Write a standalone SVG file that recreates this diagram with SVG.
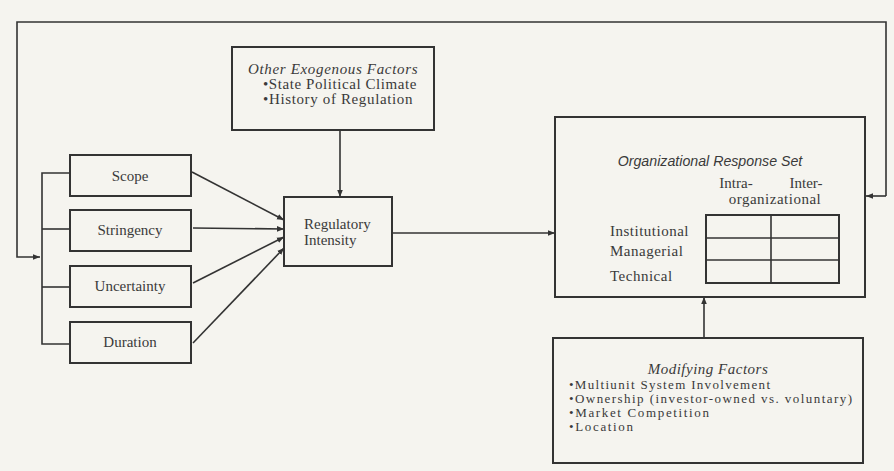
<svg xmlns="http://www.w3.org/2000/svg" width="894" height="471" viewBox="0 0 894 471">
<defs>
<marker id="ah" viewBox="0 0 10 10" refX="10" refY="5" markerWidth="7" markerHeight="7" orient="auto" markerUnits="userSpaceOnUse"><path d="M0,1 L10,5 L0,9 z" fill="#333"/></marker>
</defs>
<style>
.box{fill:none;stroke:#333;stroke-width:2}
.ln{fill:none;stroke:#333;stroke-width:1.6}
.t{font-family:"Liberation Serif",serif;font-size:15px;fill:#3a3a3a}
.sp{letter-spacing:0.5px}
.ti{font-family:"Liberation Serif",serif;font-size:15px;font-style:italic;fill:#3a3a3a}
.si{font-family:"Liberation Sans",sans-serif;font-size:14.2px;font-style:italic;fill:#3a3a3a}
.m{font-family:"Liberation Serif",serif;font-size:13px;fill:#3a3a3a}
</style>
<rect width="894" height="471" fill="#f5f4ef"/>
<g id="connectors">
<polyline class="ln" points="886,196 886,22 17,22 17,257 40,257" marker-end="url(#ah)"/>
<line class="ln" x1="886" y1="196" x2="866" y2="196" marker-end="url(#ah)"/>
<polyline class="ln" points="70,173 42,173 42,344 70,344"/>
<line class="ln" x1="42" y1="229" x2="70" y2="229"/>
<line class="ln" x1="42" y1="287" x2="70" y2="287"/>
<line class="ln" x1="340" y1="130" x2="340" y2="197" marker-end="url(#ah)"/>
<line class="ln" x1="192" y1="172" x2="284" y2="220" marker-end="url(#ah)"/>
<line class="ln" x1="193" y1="228" x2="284" y2="229" marker-end="url(#ah)"/>
<line class="ln" x1="193" y1="283" x2="284" y2="237" marker-end="url(#ah)"/>
<line class="ln" x1="193" y1="343" x2="284" y2="248" marker-end="url(#ah)"/>
<line class="ln" x1="392" y1="233" x2="555" y2="233" marker-end="url(#ah)"/>
<line class="ln" x1="704" y1="338" x2="704" y2="297" marker-end="url(#ah)"/>
</g>
<g id="exogenous">
<rect class="box" x="232" y="47" width="202" height="83"/>
<text class="ti sp" x="333" y="74" text-anchor="middle" textLength="170">Other Exogenous Factors</text>
<text class="t sp" x="263" y="89" textLength="154">•State Political Climate</text>
<text class="t sp" x="263" y="104" textLength="150">•History of Regulation</text>
</g>
<g id="scope">
<rect class="box" x="70" y="155" width="121" height="41"/>
<text class="t" x="130" y="181" text-anchor="middle">Scope</text>
</g>
<g id="stringency">
<rect class="box" x="70" y="210" width="121" height="41"/>
<text class="t" x="130" y="235" text-anchor="middle">Stringency</text>
</g>
<g id="uncertainty">
<rect class="box" x="70" y="266" width="121" height="41"/>
<text class="t" x="130" y="291" text-anchor="middle">Uncertainty</text>
</g>
<g id="duration">
<rect class="box" x="70" y="322" width="121" height="41"/>
<text class="t" x="130" y="347" text-anchor="middle">Duration</text>
</g>
<g id="regulatory">
<rect class="box" x="284" y="197" width="108" height="69"/>
<text class="t" x="304" y="229">Regulatory</text>
<text class="t" x="304" y="245">Intensity</text>
</g>
<g id="response">
<rect class="box" x="555" y="117" width="310" height="180"/>
<text class="si" x="710" y="166" text-anchor="middle">Organizational Response Set</text>
<text class="t" x="736" y="188" text-anchor="middle" font-size="14">Intra-</text>
<text class="t" x="806" y="188" text-anchor="middle" font-size="14">Inter-</text>
<text class="t sp" x="775" y="204" text-anchor="middle" font-size="14">organizational</text>
<rect class="box" x="706" y="215" width="133" height="68"/>
<line class="ln" x1="771" y1="215" x2="771" y2="283"/>
<line class="ln" x1="706" y1="238" x2="839" y2="238"/>
<line class="ln" x1="706" y1="260" x2="839" y2="260"/>
<text class="t sp" x="610" y="236" font-size="16">Institutional</text>
<text class="t sp" x="610" y="256" font-size="14">Managerial</text>
<text class="t sp" x="610" y="281">Technical</text>
</g>
<g id="modifying">
<rect class="box" x="553" y="338" width="310" height="125"/>
<text class="ti sp" x="708" y="374" text-anchor="middle">Modifying Factors</text>
<text class="m" x="569" y="389" textLength="201">•Multiunit System Involvement</text>
<text class="m" x="569" y="403" textLength="283">•Ownership (investor-owned vs. voluntary)</text>
<text class="m" x="569" y="417" textLength="140">•Market Competition</text>
<text class="m" x="569" y="431" textLength="64">•Location</text>
</g>
</svg>
